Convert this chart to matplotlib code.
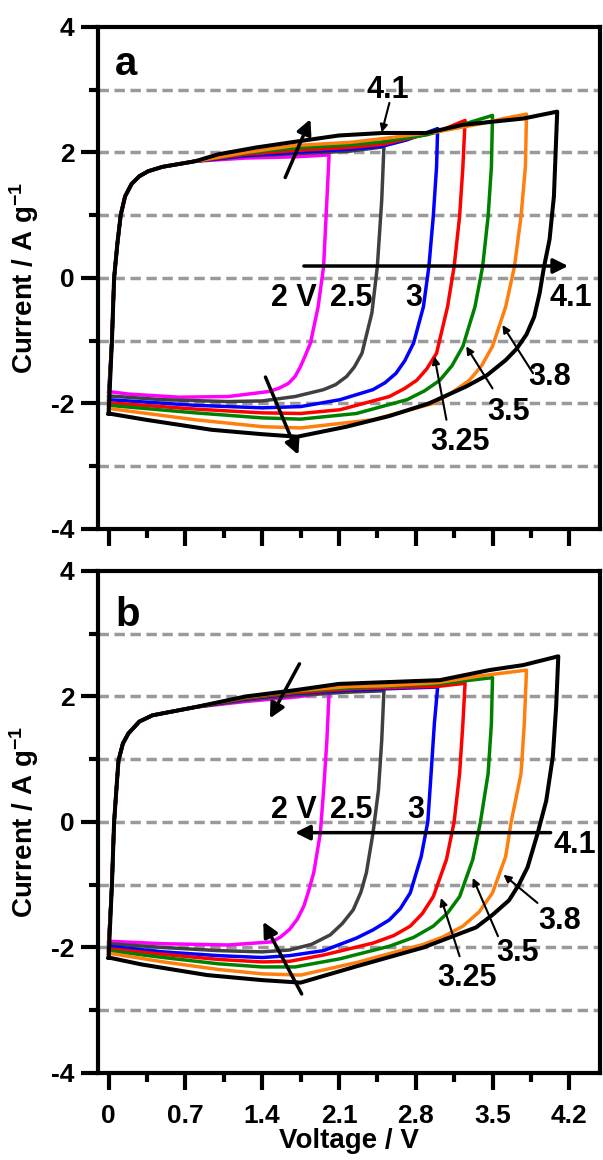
import matplotlib
matplotlib.use('Agg')
import matplotlib.pyplot as plt
from matplotlib.ticker import MultipleLocator

plt.rcParams['font.family'] = ['Liberation Sans', 'DejaVu Sans']
plt.rcParams['font.weight'] = 'bold'
plt.rcParams['mathtext.fontset'] = 'custom'
plt.rcParams['mathtext.rm'] = 'Liberation Sans:bold'
plt.rcParams['mathtext.bf'] = 'Liberation Sans:bold'
plt.rcParams['mathtext.default'] = 'rm'

# upper vertex potentials and line colours
limits = ['2', '2.5', '3', '3.25', '3.5', '3.8', '4.1']
colors = ['#ff00ff', '#404040', '#0000ff', '#ff0000', '#008000', '#ff7f0e', '#000000']

# ---- panel a : (V, I) ----
a_rise = [(0.03, -1.0), (0.05, 0.0), (0.08, 0.55), (0.11, 1.0), (0.15, 1.3), (0.21, 1.5),
          (0.28, 1.62), (0.36, 1.70), (0.49, 1.77), (0.79, 1.86)]

a_top_2 = [(1.25, 1.91), (1.70, 1.93), (2.01, 1.96)]
a_top_25 = [(1.25, 1.94), (1.70, 1.98), (2.20, 2.02), (2.51, 2.09)]
a_top_3 = [(1.25, 1.95), (1.70, 2.0), (2.20, 2.05), (2.50, 2.10), (2.72, 2.20), (3.00, 2.38)]
a_top_325 = [(1.25, 1.97), (1.70, 2.03), (2.20, 2.08), (2.50, 2.13), (2.80, 2.25), (3.00, 2.33), (3.25, 2.51)]
a_top_35 = [(1.25, 1.99), (1.70, 2.07), (2.20, 2.12), (2.50, 2.17), (2.90, 2.28), (3.20, 2.43), (3.50, 2.59)]
a_top_38 = [(1.25, 2.0), (1.70, 2.11), (2.20, 2.16), (2.50, 2.22), (3.00, 2.33), (3.40, 2.46), (3.60, 2.54), (3.81, 2.61)]
a_top_41 = [(1.0, 1.97), (1.35, 2.08), (1.70, 2.17), (2.10, 2.27), (2.50, 2.31), (2.90, 2.31), (3.23, 2.44),
            (3.78, 2.54), (4.09, 2.65)]

a_bot_2 = [(1.99, 1.24), (1.96, 0.18), (1.91, -0.46), (1.84, -1.04), (1.79, -1.25), (1.75, -1.41), (1.70, -1.57),
           (1.64, -1.68), (1.55, -1.76), (1.46, -1.81), (1.09, -1.89), (0.64, -1.90), (0.18, -1.85), (0.0, -1.81)]
a_bot_25 = [(2.49, 1.24), (2.45, 0.18), (2.40, -0.56), (2.31, -1.2), (2.24, -1.42), (2.17, -1.57), (2.07, -1.70),
            (1.96, -1.78), (1.70, -1.89), (1.40, -1.96), (1.09, -1.97), (0.49, -1.94), (0.0, -1.88)]
a_bot_3 = [(2.99, 1.77), (2.96, 0.98), (2.92, 0.18), (2.87, -0.46), (2.78, -1.04), (2.70, -1.32), (2.62, -1.52),
           (2.52, -1.67), (2.41, -1.78), (2.11, -1.94), (1.75, -2.05), (1.40, -2.07), (0.79, -2.03), (0.0, -1.94)]
a_bot_325 = [(3.23, 1.77), (3.20, 0.98), (3.15, 0.18), (3.09, -0.46), (2.99, -1.2), (2.90, -1.45), (2.81, -1.63),
             (2.70, -1.76), (2.56, -1.89), (2.11, -2.10), (1.75, -2.16), (1.40, -2.15), (0.79, -2.09), (0.0, -1.99)]
a_bot_35 = [(3.49, 1.77), (3.46, 0.98), (3.41, 0.18), (3.34, -0.46), (3.23, -1.09), (3.13, -1.40), (3.02, -1.63),
            (2.88, -1.80), (2.72, -1.94), (2.26, -2.16), (1.75, -2.25), (1.40, -2.23), (0.79, -2.15), (0.0, -2.03)]
a_bot_38 = [(3.80, 1.77), (3.76, 0.98), (3.70, 0.18), (3.62, -0.46), (3.50, -1.09), (3.40, -1.40), (3.29, -1.63),
            (3.12, -1.84), (2.96, -2.0), (2.41, -2.26), (1.75, -2.39), (1.40, -2.37), (0.79, -2.26), (0.0, -2.08)]
a_bot_41 = [(4.06, 1.30), (4.02, 0.61), (3.97, 0.18), (3.93, -0.24), (3.88, -0.62), (3.81, -0.90), (3.72, -1.13),
            (3.62, -1.31), (3.45, -1.55), (3.26, -1.73), (2.92, -2.0), (2.56, -2.20), (2.17, -2.37), (1.72, -2.53),
            (1.40, -2.49), (0.94, -2.42), (0.34, -2.26), (0.0, -2.16)]

# ---- panel b ----
b_rise = [(0.03, -1.0), (0.05, 0.0), (0.07, 0.5), (0.09, 0.98), (0.13, 1.25), (0.18, 1.41),
          (0.28, 1.60), (0.40, 1.70), (0.79, 1.83)]

b_top_2 = [(1.25, 1.92), (1.70, 1.99), (2.01, 2.06)]
b_top_25 = [(1.25, 1.94), (1.70, 2.02), (2.20, 2.07), (2.51, 2.09)]
b_top_3 = [(1.25, 1.96), (1.70, 2.05), (2.20, 2.10), (2.50, 2.12), (3.00, 2.15)]
b_top_325 = [(1.25, 1.97), (1.70, 2.06), (2.20, 2.12), (2.50, 2.14), (3.00, 2.16), (3.25, 2.21)]
b_top_35 = [(1.25, 1.98), (1.70, 2.08), (2.20, 2.14), (2.50, 2.16), (3.00, 2.20), (3.30, 2.26), (3.50, 2.30)]
b_top_38 = [(1.25, 1.99), (1.70, 2.09), (2.20, 2.16), (2.50, 2.17), (3.00, 2.22), (3.40, 2.33), (3.81, 2.42)]
b_top_41 = [(1.25, 2.0), (1.70, 2.10), (2.10, 2.20), (2.56, 2.23), (3.02, 2.26), (3.47, 2.42), (3.78, 2.50), (4.10, 2.64)]

b_bot_2 = [(1.99, 1.30), (1.96, 0.50), (1.93, -0.18), (1.87, -0.81), (1.82, -1.12), (1.78, -1.34), (1.72, -1.55),
           (1.65, -1.71), (1.57, -1.83), (1.49, -1.91), (1.09, -1.96), (0.49, -1.94), (0.0, -1.90)]
b_bot_25 = [(2.49, 1.30), (2.46, 0.50), (2.41, -0.18), (2.35, -0.81), (2.30, -1.12), (2.23, -1.40), (2.13, -1.62),
            (2.02, -1.80), (1.85, -1.95), (1.65, -2.04), (1.40, -2.07), (1.0, -2.05), (0.5, -2.0), (0.0, -1.94)]
b_bot_3 = [(2.97, 1.57), (2.94, 0.77), (2.91, 0.0), (2.85, -0.55), (2.75, -1.13), (2.66, -1.38), (2.56, -1.56),
           (2.41, -1.72), (2.26, -1.85), (1.96, -2.05), (1.65, -2.13), (1.40, -2.16), (1.0, -2.13), (0.5, -2.07), (0.0, -1.98)]
b_bot_325 = [(3.23, 1.57), (3.20, 0.77), (3.15, 0.0), (3.08, -0.6), (2.96, -1.19), (2.86, -1.46), (2.75, -1.66),
             (2.60, -1.81), (2.41, -1.93), (1.96, -2.12), (1.65, -2.22), (1.40, -2.23), (1.0, -2.19), (0.5, -2.11), (0.0, -2.02)]
b_bot_35 = [(3.49, 1.57), (3.46, 0.77), (3.39, 0.0), (3.32, -0.6), (3.20, -1.19), (3.09, -1.45), (2.96, -1.66),
            (2.78, -1.84), (2.56, -1.98), (2.11, -2.18), (1.70, -2.31), (1.40, -2.31), (1.0, -2.26), (0.5, -2.16), (0.0, -2.05)]
b_bot_38 = [(3.79, 1.57), (3.76, 0.77), (3.67, 0.0), (3.62, -0.55), (3.50, -1.13), (3.38, -1.43), (3.23, -1.66),
            (3.05, -1.83), (2.87, -1.95), (2.26, -2.24), (1.75, -2.44), (1.40, -2.42), (1.0, -2.35), (0.5, -2.23), (0.0, -2.09)]
b_bot_41 = [(4.08, 1.83), (4.05, 1.04), (3.99, 0.34), (3.91, -0.19), (3.82, -0.72), (3.74, -1.0), (3.65, -1.25),
            (3.50, -1.48), (3.35, -1.68), (2.87, -2.0), (2.26, -2.30), (1.75, -2.56), (1.40, -2.52), (0.90, -2.44),
            (0.30, -2.27), (0.0, -2.16)]

a_tops = [a_top_2, a_top_25, a_top_3, a_top_325, a_top_35, a_top_38, a_top_41]
a_bots = [a_bot_2, a_bot_25, a_bot_3, a_bot_325, a_bot_35, a_bot_38, a_bot_41]
b_tops = [b_top_2, b_top_25, b_top_3, b_top_325, b_top_35, b_top_38, b_top_41]
b_bots = [b_bot_2, b_bot_25, b_bot_3, b_bot_325, b_bot_35, b_bot_38, b_bot_41]

x_ticks = [0, 0.7, 1.4, 2.1, 2.8, 3.5, 4.2]
y_ticks = [-4, -2, 0, 2, 4]
grid_y = [-3, -2, -1, 0, 1, 2, 3]


def style_axes(ax, show_x):
    ax.set_xlim(-0.097, 4.48)
    ax.set_ylim(-4, 4)
    for s in ax.spines.values():
        s.set_linewidth(3)
    ax.set_xticks(x_ticks)
    ax.xaxis.set_minor_locator(MultipleLocator(0.35))
    ax.set_yticks(y_ticks)
    ax.yaxis.set_minor_locator(MultipleLocator(1))
    ax.tick_params(which='major', direction='out', length=12, width=3, labelsize=19, pad=5)
    ax.tick_params(which='minor', direction='out', length=6.5, width=3)
    ax.tick_params(axis='x', which='major', pad=10)
    ax.set_yticklabels([str(v) for v in y_ticks])
    if show_x:
        ax.set_xticklabels([('%g' % v) for v in x_ticks])
    else:
        ax.set_xticklabels([])
    for g in grid_y:
        ax.axhline(g, color='#9a9a9a', lw=2.5, ls=(0, (3, 1.6)), zorder=1)
    ax.set_ylabel('Current / A g$^{-1}$', fontsize=20, fontweight='bold')
    ax.yaxis.set_label_coords(-0.113, 0.5)


def draw_loops(ax, rise, tops, bots):
    for top, bot, c in zip(tops, bots, colors):
        pts = [bot[-1]] + rise + top + bot
        v = [p[0] for p in pts]
        i = [p[1] for p in pts]
        ax.plot(v, i, color=c, lw=2.9 if c == '#000000' else 2.5, zorder=3, solid_joinstyle='round')


def arrow(ax, tail, head, lw=2.5, ms=22):
    ax.annotate('', xy=head, xytext=tail,
                arrowprops=dict(arrowstyle='-|>', color='black', lw=lw, mutation_scale=ms,
                                shrinkA=0, shrinkB=0), zorder=5)


fig = plt.figure(figsize=(6.03, 11.6), dpi=100)
ax1 = fig.add_axes([0.1625, 0.544, 0.8325, 0.4328])
ax2 = fig.add_axes([0.1625, 0.075, 0.8325, 0.4328])

style_axes(ax1, False)
style_axes(ax2, True)
draw_loops(ax1, a_rise, a_tops, a_bots)
draw_loops(ax2, b_rise, b_tops, b_bots)

ax2.set_xlabel('Voltage / V', fontsize=20, fontweight='bold')
ax2.xaxis.set_label_coords(0.5, -0.11)

ax1.text(0.034, 0.904, 'a', transform=ax1.transAxes, fontsize=29, fontweight='bold', va='baseline')
ax2.text(0.034, 0.890, 'b', transform=ax2.transAxes, fontsize=29, fontweight='bold', va='baseline')

fs = 22
# panel a annotations
arrow(ax1, (1.61, 1.60), (1.84, 2.53))
arrow(ax1, (1.43, -1.58), (1.73, -2.82))
arrow(ax1, (1.78, 0.19), (4.19, 0.19))
arrow(ax1, (2.56, 2.79), (2.49, 2.32), lw=1.5, ms=11)
arrow(ax1, (3.87, -1.52), (3.59, -0.75), lw=1.5, ms=11)
arrow(ax1, (3.50, -1.76), (3.26, -1.09), lw=1.5, ms=11)
arrow(ax1, (3.08, -2.26), (2.97, -1.25), lw=1.5, ms=11)
ax1.text(2.55, 3.0, '4.1', fontsize=fs, fontweight='bold', ha='center', va='center')
ax1.text(1.69, -0.32, '2 V', fontsize=fs, fontweight='bold', ha='center', va='center')
ax1.text(2.21, -0.32, '2.5', fontsize=fs, fontweight='bold', ha='center', va='center')
ax1.text(2.78, -0.32, '3', fontsize=fs, fontweight='bold', ha='center', va='center')
ax1.text(4.21, -0.32, '4.1', fontsize=fs, fontweight='bold', ha='center', va='center')
ax1.text(4.02, -1.58, '3.8', fontsize=fs, fontweight='bold', ha='center', va='center')
ax1.text(3.65, -2.13, '3.5', fontsize=fs, fontweight='bold', ha='center', va='center')
ax1.text(3.20, -2.61, '3.25', fontsize=fs, fontweight='bold', ha='center', va='center')

# panel b annotations
arrow(ax2, (1.74, 2.52), (1.47, 1.65))
arrow(ax2, (1.76, -2.74), (1.41, -1.59))
arrow(ax2, (4.03, -0.17), (1.70, -0.17))
arrow(ax2, (3.91, -1.29), (3.60, -0.84), lw=1.5, ms=11)
arrow(ax2, (3.55, -1.82), (3.32, -0.89), lw=1.5, ms=11)
arrow(ax2, (3.20, -2.14), (3.03, -1.21), lw=1.5, ms=11)
ax2.text(1.69, 0.19, '2 V', fontsize=fs, fontweight='bold', ha='center', va='center')
ax2.text(2.21, 0.19, '2.5', fontsize=fs, fontweight='bold', ha='center', va='center')
ax2.text(2.80, 0.19, '3', fontsize=fs, fontweight='bold', ha='center', va='center')
ax2.text(4.25, -0.37, '4.1', fontsize=fs, fontweight='bold', ha='center', va='center')
ax2.text(4.11, -1.58, '3.8', fontsize=fs, fontweight='bold', ha='center', va='center')
ax2.text(3.73, -2.08, '3.5', fontsize=fs, fontweight='bold', ha='center', va='center')
ax2.text(3.27, -2.49, '3.25', fontsize=fs, fontweight='bold', ha='center', va='center')

fig.savefig('out.png', dpi=100)
